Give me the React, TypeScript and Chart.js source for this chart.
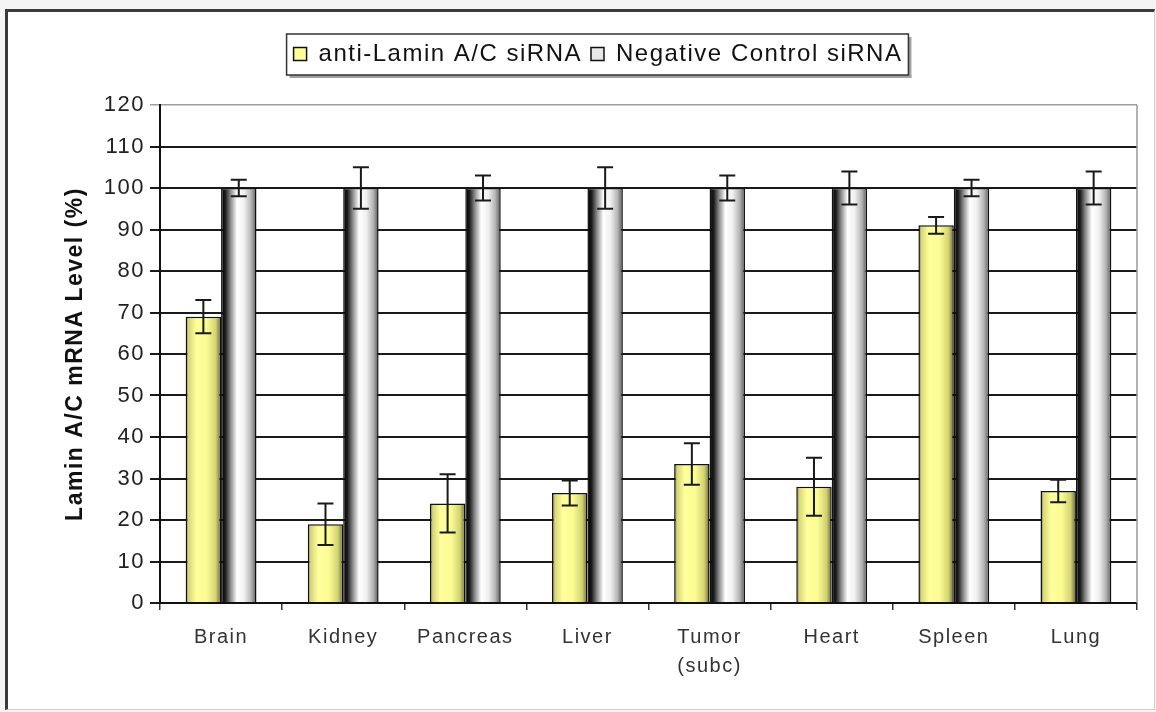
import { useEffect, useRef } from 'react';
import { Chart, registerables } from 'chart.js';

Chart.register(...registerables);

const categories: (string | string[])[] = ['Brain', 'Kidney', 'Pancreas', 'Liver', ['Tumor', '(subc)'], 'Heart', 'Spleen', 'Lung'];
const antiLaminValues = [69, 19, 24, 26.5, 33.5, 28, 91, 27];
const antiLaminErrors = [4, 5, 7, 3, 5, 7, 2, 2.7];
const negativeValues = [100, 100, 100, 100, 100, 100, 100, 100];
const negativeErrors = [2, 5, 3, 5, 3, 4, 2, 4];
const yTicks = { min: 0, max: 120, step: 10 };
const seriesNames = ['anti-Lamin A/C siRNA', 'Negative Control siRNA'];
const yTitle = 'Lamin A/C mRNA Level (%)';

const FONT = '"Liberation Sans", Arial, sans-serif';
const LS = '1.5px';

const letterSpacingPlugin = {
  id: 'letterSpacing',
  beforeUpdate(chart: any) { chart.ctx.letterSpacing = LS; },
  beforeLayout(chart: any) {
    chart.ctx.letterSpacing = LS;
    const lg = chart.legend;
    if (lg && !lg._patchedFit) {
      const orig = lg.fit.bind(lg);
      lg.fit = function () { orig(); if (this.height) this.height += 29; };
      lg._patchedFit = true;
    }
  },
  beforeDraw(chart: any) { chart.ctx.letterSpacing = LS; },
};

const gradientPlugin = {
  id: 'barGradient',
  beforeDatasetsDraw(chart: any) {
    const ctx = chart.ctx;
    chart.data.datasets.forEach((ds: any, di: number) => {
      const meta = chart.getDatasetMeta(di);
      meta.data.forEach((el: any) => {
        const { x, width } = el.getProps(['x', 'width'], true);
        const x0 = x - width / 2;
        const x1 = x + width / 2;
        if (!isFinite(x0) || !isFinite(x1)) return;
        const g = ctx.createLinearGradient(x0, 0, x1, 0);
        if (di === 0) {
          g.addColorStop(0, '#5a5a25');
          g.addColorStop(0.08, '#d6d67a');
          g.addColorStop(0.3, '#ffff9c');
          g.addColorStop(0.6, '#fbfb94');
          g.addColorStop(0.85, '#d2d272');
          g.addColorStop(1, '#6a6a30');
        } else {
          g.addColorStop(0, '#000000');
          g.addColorStop(0.12, '#1c1c1c');
          g.addColorStop(0.27, '#8c8c8c');
          g.addColorStop(0.45, '#ffffff');
          g.addColorStop(0.65, '#f0f0f0');
          g.addColorStop(0.85, '#b4b4b4');
          g.addColorStop(1, '#555555');
        }
        el.options = Object.assign({}, el.options, { backgroundColor: g });
      });
    });
  },
};

const errorBarPlugin = {
  id: 'errorBars',
  afterDatasetsDraw(chart: any) {
    const ctx = chart.ctx;
    const ys = chart.scales.y;
    ctx.save();
    ctx.strokeStyle = '#1a1a1a';
    ctx.lineWidth = 2;
    chart.data.datasets.forEach((ds: any, di: number) => {
      const meta = chart.getDatasetMeta(di);
      meta.data.forEach((el: any, i: number) => {
        const v = ds.data[i];
        const e = ds.errors[i];
        const x = el.x;
        const yt = ys.getPixelForValue(v + e);
        const yb = ys.getPixelForValue(v - e);
        ctx.beginPath();
        ctx.moveTo(x, yt); ctx.lineTo(x, yb);
        ctx.moveTo(x - 8, yt); ctx.lineTo(x + 8, yt);
        ctx.moveTo(x - 8, yb); ctx.lineTo(x + 8, yb);
        ctx.stroke();
      });
    });
    ctx.restore();
  },
};

const framePlugin = {
  id: 'frames',
  afterDraw(chart: any) {
    const ctx = chart.ctx;
    const a = chart.chartArea;
    ctx.save();
    ctx.strokeStyle = '#9a9a9a';
    ctx.lineWidth = 1.5;
    ctx.beginPath();
    ctx.moveTo(a.right, a.top);
    ctx.lineTo(a.right, a.bottom);
    ctx.stroke();
    const lg = chart.legend;
    if (lg && lg.legendHitBoxes && lg.legendHitBoxes.length) {
      const hb = lg.legendHitBoxes;
      const l = hb[0].left - 7;
      const last = hb[hb.length - 1];
      const r = last.left + last.width + 6;
      const t = lg.top + 1;
      const b = lg.top + 42;
      ctx.fillStyle = '#a0a0a0';
      ctx.fillRect(r, t + 3, 3, b - t);
      ctx.fillRect(l + 3, b, r - l, 3);
      ctx.strokeStyle = '#333';
      ctx.lineWidth = 1.5;
      ctx.strokeRect(l, t, r - l, b - t);
    }
    ctx.restore();
  },
};

export default function App() {
  const ref = useRef<HTMLCanvasElement | null>(null);
  useEffect(() => {
    if (!ref.current) return;
    Chart.defaults.font.family = FONT;
    const chart = new Chart(ref.current, {
      type: 'bar',
      data: {
        labels: categories,
        datasets: [
          {
            label: seriesNames[0],
            data: antiLaminValues,
            errors: antiLaminErrors,
            backgroundColor: '#ffff99',
            borderColor: '#111',
            borderWidth: 1.5,
            categoryPercentage: 0.58,
            barPercentage: 1,
          } as any,
          {
            label: seriesNames[1],
            data: negativeValues,
            errors: negativeErrors,
            backgroundColor: '#e8e8e8',
            borderColor: '#111',
            borderWidth: 1.5,
            categoryPercentage: 0.58,
            barPercentage: 1,
          } as any,
        ],
      },
      options: {
        responsive: false,
        animation: false,
        layout: { padding: { left: 59, right: 19, top: 33, bottom: 29 } },
        plugins: {
          legend: {
            position: 'top',
            labels: {
              font: { size: 24, family: FONT },
              color: '#111',
              boxWidth: 13,
              boxHeight: 13,
              padding: 9,
            },
          },
          tooltip: { enabled: false },
        },
        scales: {
          x: {
            grid: {
              display: true,
              drawOnChartArea: false,
              drawTicks: true,
              tickLength: 7,
              color: '#333',
              lineWidth: 1.5,
              offset: true,
            },
            border: { display: true, color: '#111', width: 2 },
            ticks: {
              font: { size: 20, lineHeight: 1.45, family: FONT },
              color: '#333',
              padding: 13,
              maxRotation: 0,
              autoSkip: false,
            },
            afterFit: (s: any) => { s.height = 80; },
          },
          y: {
            min: yTicks.min,
            max: yTicks.max,
            ticks: {
              stepSize: yTicks.step,
              font: { size: 22, family: FONT },
              color: '#222',
              padding: 5,
            },
            grid: {
              color: (c: any) => (c.tick && c.tick.value === yTicks.max ? '#a0a0a0' : '#1a1a1a'),
              lineWidth: (c: any) => (c.tick && c.tick.value === yTicks.max ? 1.5 : 2),
              tickLength: 10,
              drawTicks: true,
            },
            border: { display: true, color: '#111', width: 2 },
            title: {
              display: true,
              text: yTitle,
              font: { size: 23, weight: 'bold', family: FONT },
              color: '#111',
              padding: { top: 3, bottom: 4 },
            },
            afterFit: (s: any) => { s.width = 160 - 59; },
          },
        },
      } as any,
      plugins: [letterSpacingPlugin, gradientPlugin, errorBarPlugin, framePlugin],
    });
    return () => chart.destroy();
  }, []);

  return (
    <div style={{ position: 'fixed', left: 0, top: 0, width: 1156, height: 712, background: '#f4f4f4', overflow: 'hidden' }}>
      <div
        style={{
          position: 'absolute',
          left: 5,
          top: 9,
          width: 1146,
          height: 697,
          background: '#ffffff',
          borderLeft: '3px solid #3a3a3a',
          borderTop: '3px solid #3a3a3a',
          borderRight: '1px solid #cfcfcf',
          borderBottom: '1px solid #cfcfcf',
        }}
      />
      <canvas ref={ref} width={1156} height={712} style={{ position: 'absolute', left: 0, top: 0 }} />
    </div>
  );
}
